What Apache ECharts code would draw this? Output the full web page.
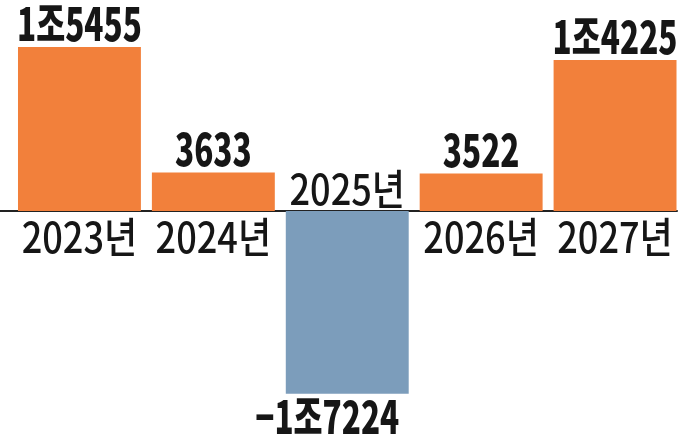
<!DOCTYPE html>
<html>
<head>
<meta charset="utf-8">
<script src="https://cdn.jsdelivr.net/npm/echarts@6/dist/echarts.min.js"></script>
<style>
html,body{margin:0;padding:0;background:#fff;overflow:hidden;}
#chart{width:686px;height:440px;}
</style>
</head>
<body>
<div id="chart"></div>
<script>
// Data (unit: 억원)
const categories = ['2023년', '2024년', '2025년', '2026년', '2027년'];
const values = [15455, 3633, -17224, 3522, 14225];

const FONT = "'Noto Sans CJK KR', sans-serif";
const ORANGE = '#F2803B';
const BLUE = '#7C9DBB';
const TEXT = '#161616';

function fmt(v) {
  const a = Math.abs(v);
  const sign = v < 0 ? '\u2212' : '';
  if (a >= 10000) {
    const jo = Math.floor(a / 10000);
    const rest = String(a % 10000).padStart(4, '0');
    return sign + jo + '조' + rest;
  }
  return sign + a;
}

const chart = echarts.init(document.getElementById('chart'));
chart.setOption({
  animation: false,
  backgroundColor: '#fff',
  grid: [
    { left: 12.5, right: 4, top: 20, height: 400 },
    { left: 0, right: 9, top: 20, height: 400 }
  ],
  xAxis: [
    { type: 'category', data: categories, gridIndex: 0,
      axisLine: { show: false }, axisTick: { show: false }, axisLabel: { show: false } },
    { type: 'category', data: categories, gridIndex: 1,
      axisLine: { show: true, onZero: true, lineStyle: { color: '#222', width: 2 } },
      axisTick: { show: false }, axisLabel: { show: false } }
  ],
  yAxis: [
    { type: 'value', gridIndex: 0, min: -19700, max: 18000, show: false },
    { type: 'value', gridIndex: 1, min: -19700, max: 18000, show: false }
  ],
  series: [
    {
      type: 'bar',
      xAxisIndex: 0, yAxisIndex: 0,
      barCategoryGap: '8.2%',
      data: values.map(v => ({
        value: v,
        itemStyle: { color: v >= 0 ? ORANGE : BLUE }
      })),
      z: 2
    },
    {
      // value labels and year labels, placed via the axes' own coordinate mapping
      type: 'custom',
      xAxisIndex: 0, yAxisIndex: 0,
      silent: true,
      clip: false,
      encode: { x: 0, y: 1 },
      data: values.map((v, i) => [i, v]),
      renderItem: function (params, api) {
        const i = api.value(0);
        const v = api.value(1);
        const end = api.coord([i, v]);
        const base = api.coord([i, 0]);
        const pos = v >= 0;
        return {
          type: 'group',
          children: [
            {
              type: 'text',
              x: end[0] + (pos ? 0 : -20),
              y: end[1] + (pos ? -1 : 1),
              scaleX: 0.7,
              style: {
                text: fmt(v),
                fontFamily: FONT, fontWeight: 900, fontSize: 45,
                fill: TEXT,
                align: 'center',
                verticalAlign: pos ? 'bottom' : 'top'
              }
            },
            {
              type: 'text',
              x: base[0],
              y: base[1] + (pos ? 5 : -1),
              scaleX: 0.86,
              style: {
                text: categories[i],
                fontFamily: FONT, fontWeight: 500, fontSize: 42,
                fill: TEXT,
                align: 'center',
                verticalAlign: pos ? 'top' : 'bottom'
              }
            }
          ]
        };
      },
      z: 3
    }
  ]
});
</script>
</body>
</html>
